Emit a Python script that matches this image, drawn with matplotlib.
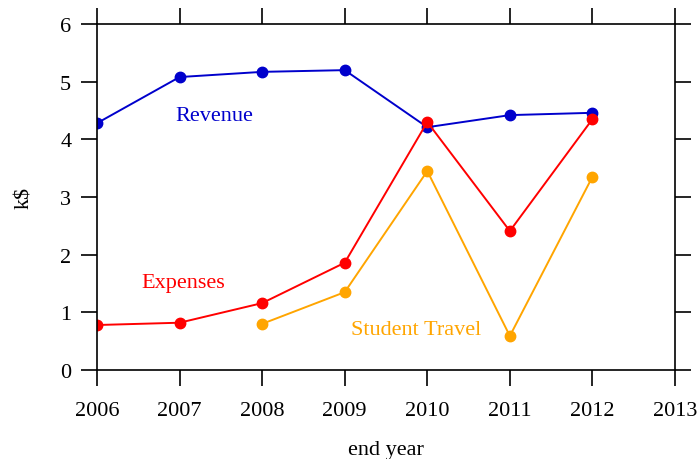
import numpy as np
import matplotlib
matplotlib.use("Agg")
import matplotlib.pyplot as plt

plt.rcParams['font.family'] = ['Liberation Serif', 'DejaVu Serif']

# data
years = [2006, 2007, 2008, 2009, 2010, 2011, 2012]
revenue = [4.28, 5.08, 5.17, 5.20, 4.21, 4.42, 4.46]
expenses = [0.78, 0.82, 1.16, 1.86, 4.30, 2.41, 4.35]
travel_years = [2008, 2009, 2010, 2011, 2012]
travel = [0.80, 1.35, 3.45, 0.59, 3.35]

blue = '#0000cc'
red = '#ff0000'
orange = '#ffa500'

fig = plt.figure(figsize=(6.98, 4.60), dpi=100)
ax = fig.add_axes([97/698, 1 - 371/460, (675-97)/698, (371-25)/460])

ax.plot(years, revenue, color=blue, lw=1.4, marker='o', ms=7.5)
ax.plot(years, expenses, color=red, lw=1.4, marker='o', ms=7.5)
ax.plot(travel_years, travel, color=orange, lw=1.4, marker='o', ms=7.5)

# series labels
ax.text(2007.42, 4.42, 'Revenue', color=blue, fontsize=16, ha='center', va='center')
ax.text(2007.05, 1.52, 'Expenses', color=red, fontsize=16, ha='center', va='center')
ax.text(2009.86, 0.70, 'Student Travel', color=orange, fontsize=16, ha='center', va='center')

ax.set_xlim(2006, 2013)
ax.set_ylim(0, 6)
ax.set_xticks(range(2006, 2014))
ax.set_yticks(range(0, 7))
ax.tick_params(direction='out', length=11.5, width=1.2, labelsize=16,
               top=True, right=True, labeltop=False, labelright=False, pad=7)
ax.tick_params(axis='x', pad=11)
for s in ax.spines.values():
    s.set_linewidth(1.2)

ax.set_xlabel('end year', fontsize=16, labelpad=14)
ax.set_ylabel('k$', fontsize=16, labelpad=19)

fig.savefig('out.png', dpi=100)
